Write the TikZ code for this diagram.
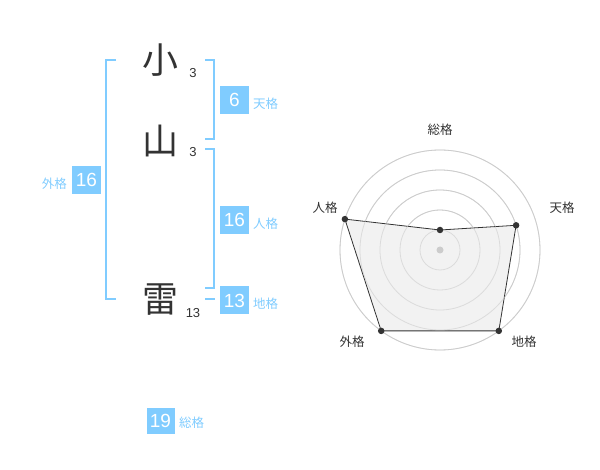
\documentclass[tikz,border=0pt]{standalone}
\usepackage{fontspec}
\setmainfont{Liberation Sans}
\newfontfamily\cjk{Noto Sans CJK JP}
\definecolor{kblue}{HTML}{80CCFF}
\definecolor{kdark}{HTML}{333333}
\definecolor{kgrid}{HTML}{CCCCCC}
\definecolor{kfill}{HTML}{F2F2F2}
\begin{document}
\begin{tikzpicture}[x=1pt,y=-1pt,
  kanji/.style={font=\cjk\fontsize{36}{36}\selectfont,text=kdark,inner sep=0pt},
  strokes/.style={font=\fontsize{13}{13}\selectfont,text=kdark,inner sep=0pt},
  numbox/.style={fill=kblue,text=white,minimum width=29pt,minimum height=28pt,inner sep=0pt,font=\fontsize{19}{19}\selectfont},
  kaku/.style={font=\cjk\fontsize{12.5}{12.5}\selectfont,text=kblue,inner sep=0pt},
  brk/.style={draw=kblue,line width=2pt},
  grid/.style={draw=kgrid,line width=0.8pt},
  rlabel/.style={font=\cjk\fontsize{12.5}{12.5}\selectfont,text=kdark,inner sep=0pt},
  pt/.style={circle,fill=kdark,inner sep=0pt,minimum size=6.5pt}]
\useasboundingbox (0,0) rectangle (600,470);
% characters
\node[kanji] (c1) at (160,60) {小};
\node[kanji] (c2) at (160,141) {山};
\node[kanji] (c3) at (160,300) {雷};
\node[strokes] (s1) at (193,73) {3};
\node[strokes] (s2) at (193,152) {3};
\node[strokes] (s3) at (193,313) {13};
% brackets
\draw[brk] (116,60) -- (106,60) -- (106,299) -- (116,299);
\draw[brk] (205,60) -- (214,60) -- (214,139) -- (205,139);
\draw[brk] (205,149) -- (214,149) -- (214,288) -- (205,288);
\draw[brk] (205,299) -- (215,299);
% boxes
\node[numbox] (ten) at (234.5,100) {6};
\node[kaku,anchor=west] (tenl) at (253,104) {天格};
\node[numbox] (jin) at (234.5,220) {16};
\node[kaku,anchor=west] (jinl) at (253,224) {人格};
\node[numbox] (chi) at (234.5,300.5) {13};
\node[kaku,anchor=west] (chil) at (253,304) {地格};
\node[numbox] (gai) at (86.5,180) {16};
\node[kaku,anchor=east] (gail) at (67,184) {外格};
\node[numbox,minimum width=28pt,minimum height=26pt] (sou) at (160.5,420.5) {19};
\node[kaku,anchor=west] (soul) at (179,423) {総格};
% radar
\coordinate (O) at (440,250);
\foreach \r in {20,40,60,80,100} \draw[grid] (O) circle (\r);
\path (440,250) ++(0,-20) coordinate (pSou);
\path (440,250) ++(76.1,-24.7) coordinate (pTen);
\path (440,250) ++(58.8,80.9) coordinate (pChi);
\path (440,250) ++(-58.8,80.9) coordinate (pGai);
\path (440,250) ++(-95.1,-30.9) coordinate (pJin);
\draw[kdark,fill=kfill,line width=0.8pt] (pSou) -- (pTen) -- (pChi) -- (pGai) -- (pJin) -- cycle;
\foreach \r in {20,40,60,80,100} \draw[grid,opacity=0.6] (O) circle (\r);
\node[circle,fill=kgrid,inner sep=0pt,minimum size=7pt] (ctr) at (O) {};
\node[pt] (dSou) at (pSou) {};
\node[pt] (dTen) at (pTen) {};
\node[pt] (dChi) at (pChi) {};
\node[pt] (dGai) at (pGai) {};
\node[pt] (dJin) at (pJin) {};
\node[rlabel] (lSou) at (440,130) {総格};
\node[rlabel] (lTen) at (562,208) {天格};
\node[rlabel] (lJin) at (325,208) {人格};
\node[rlabel] (lGai) at (352,342) {外格};
\node[rlabel] (lChi) at (524,342) {地格};
\end{tikzpicture}
\end{document}
